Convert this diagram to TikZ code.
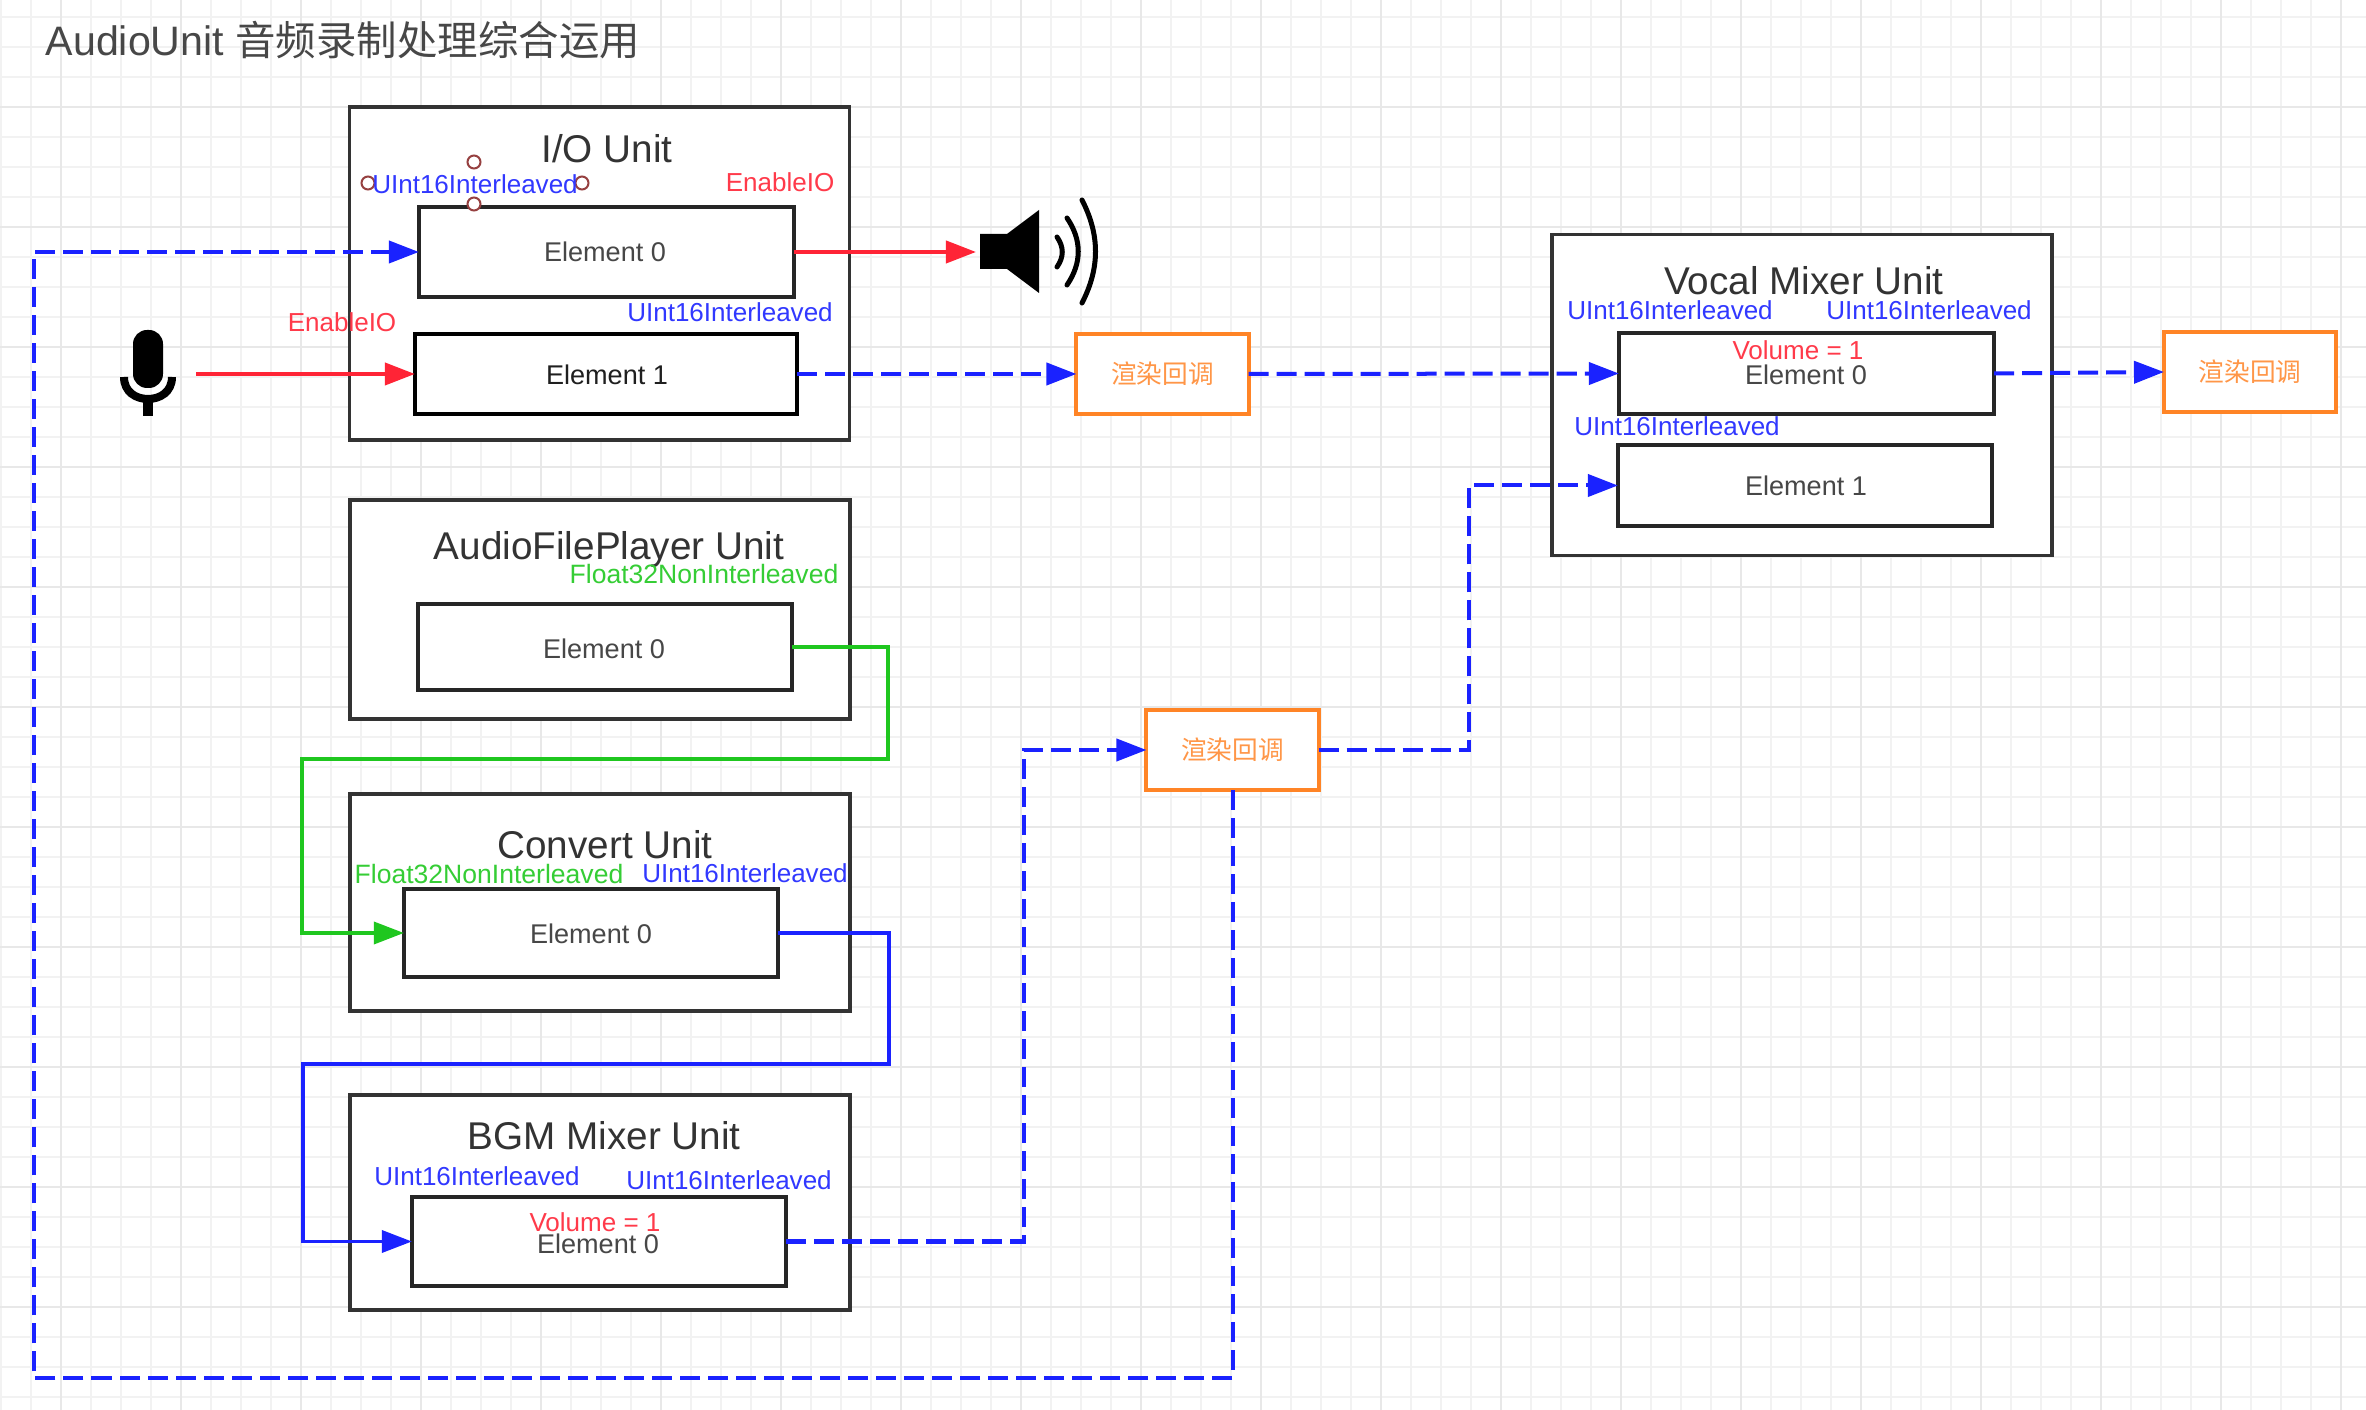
\documentclass[tikz,border=0pt]{standalone}
\usepackage{fontspec}
\setmainfont{Liberation Sans}
\newfontfamily\cjk{Noto Sans CJK SC}
\usetikzlibrary{arrows.meta}
\definecolor{lineblue}{HTML}{1A22FF}
\definecolor{linered}{HTML}{FF2436}
\definecolor{linegreen}{HTML}{1FC71F}
\definecolor{lineorange}{HTML}{FF8426}
\tikzset{
  gridminor/.style={draw=black!5,line width=0.02cm},
  gridmajor/.style={draw=black!9,line width=0.02cm},
  unitbox/.style={draw=black!80,fill=white,line width=0.035cm,inner sep=0,outer sep=0,minimum width=5cm},
  elembox/.style={draw=black!85,fill=white,line width=0.04cm,inner sep=0,outer sep=0},
  renderbox/.style={draw=lineorange,fill=white,line width=0.04cm,inner sep=0,outer sep=0,minimum width=1.72cm,minimum height=0.8cm,
    text=lineorange!85!white,font=\cjk\fontsize{7.3}{9}\selectfont},
  unittitle/.style={text=black!80,inner sep=0,font=\fontsize{11}{13}\selectfont},
  elemtext/.style={text=black!72,inner sep=0,font=\fontsize{7.7}{9}\selectfont},
  bluetext/.style={text=lineblue!90!white,inner sep=0,font=\fontsize{7.4}{9}\selectfont},
  redtext/.style={text=linered!90!white,inner sep=0,font=\fontsize{7.4}{9}\selectfont},
  greentext/.style={text=linegreen!90!white,inner sep=0,font=\fontsize{7.55}{9}\selectfont},
  handledot/.style={circle,draw=red!45!black!75,fill=white,line width=0.02cm,inner sep=0,minimum size=0.13cm},
  redline/.style={draw=linered,line width=0.04cm,-{Triangle[length=0.3cm,width=0.22cm]}},
  greenline/.style={draw=linegreen,line width=0.035cm,-{Triangle[length=0.3cm,width=0.22cm]}},
  blueline/.style={draw=lineblue,line width=0.035cm,-{Triangle[length=0.3cm,width=0.22cm]}},
  bluedash/.style={draw=lineblue,line width=0.04cm,dash pattern=on 0.2cm off 0.08cm,-{Triangle[length=0.3cm,width=0.22cm]}},
}
\begin{document}
\begin{tikzpicture}[x=0.01cm,y=-0.01cm]
  \useasboundingbox (0,0) rectangle (2366,1410);
  \fill[white] (0,0) rectangle (2366,1410);
  \foreach \gx in {1,31,...,2341} \draw[gridminor] (\gx,0) -- (\gx,1410);
  \foreach \gy in {17,47,...,1397} \draw[gridminor] (0,\gy) -- (2366,\gy);
  \foreach \gx in {61,181,...,2341} \draw[gridmajor] (\gx,0) -- (\gx,1410);
  \foreach \gy in {107,227,...,1307} \draw[gridmajor] (0,\gy) -- (2366,\gy);

  \node[text=black!72,inner sep=0,anchor=west,font=\fontsize{11.7}{14}\selectfont] (pagetitle) at (45,40) {AudioUnit {\cjk\fontsize{11.5}{14}\selectfont 音频录制处理综合运用}};

  \node[unitbox,minimum height=3.33cm] (iounit) at (599.5,273.5) {};
  \node[unitbox,minimum height=2.19cm] (fileunit) at (600,609.5) {};
  \node[unitbox,minimum height=2.17cm] (convunit) at (600,902.5) {};
  \node[unitbox,minimum height=2.15cm] (bgmunit) at (600,1202.5) {};
  \node[unitbox,minimum height=3.21cm] (vocalunit) at (1802,395) {};

  \node[elembox,minimum width=3.75cm,minimum height=0.89cm] (ioelemzero) at (606.5,252) {};
  \node[elembox,draw=black,minimum width=3.82cm,minimum height=0.79cm] (ioelemone) at (606,374) {};
  \node[elembox,minimum width=3.74cm,minimum height=0.85cm] (fileelem) at (605,647) {};
  \node[elembox,minimum width=3.74cm,minimum height=0.88cm] (convelem) at (591,933) {};
  \node[elembox,minimum width=3.74cm,minimum height=0.88cm] (bgmelem) at (599,1241.5) {};
  \node[elembox,minimum width=3.75cm,minimum height=0.8cm] (vocalelemzero) at (1806.5,373.5) {};
  \node[elembox,minimum width=3.74cm,minimum height=0.8cm] (vocalelemone) at (1805,485.5) {};

  \node[renderbox] (renderone) at (1162.5,374) {渲染回调};
  \node[renderbox] (rendertwo) at (1232.5,750) {渲染回调};
  \node[renderbox] (renderthree) at (2250,372) {渲染回调};

  \fill[rounded corners=0.14cm] (133,330) rectangle (163,388);
  \fill (143,400) rectangle (153,416);
  \draw[line width=0.08cm] (124,377) .. controls (124,392) and (136,399) .. (148,399) .. controls (160,399) and (172,392) .. (172,377);
  \coordinate (micout) at (196,374);

  \fill (980,234) -- (1007,234) -- (1039,210) -- (1039,293) -- (1007,269) -- (980,269) -- cycle;
  \draw[line width=0.05cm,line cap=round] (1057,237) .. controls (1064,247) and (1064,257) .. (1057,267);
  \draw[line width=0.05cm,line cap=round] (1067,218) .. controls (1082,240) and (1082,263) .. (1067,285);
  \draw[line width=0.05cm,line cap=round] (1082,200) .. controls (1100,235) and (1100,268) .. (1082,303);
  \coordinate (spkin) at (976,252);

  \coordinate (loopcorner) at (34,1378);
  \coordinate (greenright) at (888,759);
  \coordinate (greenleft) at (302,933);
  \coordinate (blueright) at (889,1064);
  \coordinate (blueleft) at (303,1241.5);
  \coordinate (bgmup) at (1024,750);
  \coordinate (vocalup) at (1469,485.5);

  \draw[redline] (micout) -- (ioelemone.west);
  \draw[redline] (ioelemzero.east) -- (spkin);
  \draw[bluedash] (rendertwo.south) |- (loopcorner) |- (ioelemzero.west);
  \draw[bluedash] (ioelemone.east) -- (renderone.west);
  \draw[bluedash] (renderone.east) -- (vocalelemzero.west);
  \draw[bluedash] (vocalelemzero.east) -- (renderthree.west);
  \draw[greenline] (fileelem.east) -| (greenright) -| (greenleft) -- (convelem.west);
  \draw[blueline] (convelem.east) -| (blueright) -| (blueleft) -- (bgmelem.west);
  \draw[bluedash] (bgmelem.east) -| (bgmup) -- (rendertwo.west);
  \draw[bluedash] (rendertwo.east) -| (vocalup) -- (vocalelemone.west);

  \node[handledot] (handletop) at (474,162) {};
  \node[handledot] (handleleft) at (368,183) {};
  \node[handledot] (handleright) at (582,183) {};
  \node[handledot] (handlebottom) at (474,204) {};

  \node[unittitle] (iotitle) at (607,149) {I/O Unit};
  \node[unittitle] (filetitle) at (609,550) {AudioFilePlayer Unit};
  \node[unittitle] (convtitle) at (605,845) {Convert Unit};
  \node[unittitle] (bgmtitle) at (604,1136) {BGM Mixer Unit};
  \node[unittitle] (vocaltitle) at (1804,281) {Vocal Mixer Unit};

  \node[elemtext] (ioelemzerotext) at (605,252) {Element 0};
  \node[elemtext,text=black!88] (ioelemonetext) at (607,375) {Element 1};
  \node[elemtext] (fileelemtext) at (604,649) {Element 0};
  \node[elemtext] (convelemtext) at (591,934) {Element 0};
  \node[elemtext] (bgmelemtext) at (598,1243.5) {Element 0};
  \node[elemtext] (vocalzerotext) at (1806,375) {Element 0};
  \node[elemtext] (vocalonetext) at (1806,486) {Element 1};

  \node[bluetext] (ioformatin) at (475,184) {UInt16Interleaved};
  \node[bluetext] (ioformatout) at (730,312) {UInt16Interleaved};
  \node[bluetext] (convformatout) at (745,873) {UInt16Interleaved};
  \node[bluetext] (bgmformatin) at (477,1176) {UInt16Interleaved};
  \node[bluetext] (bgmformatout) at (729,1180) {UInt16Interleaved};
  \node[bluetext] (vocalformatin) at (1670,310) {UInt16Interleaved};
  \node[bluetext] (vocalformatout) at (1929,310) {UInt16Interleaved};
  \node[bluetext] (vocalformatone) at (1677,426) {UInt16Interleaved};
  \node[greentext] (fileformat) at (704,574) {Float32NonInterleaved};
  \node[greentext] (convformatin) at (489,874) {Float32NonInterleaved};
  \node[redtext] (enableout) at (780,182) {EnableIO};
  \node[redtext] (enablein) at (342,322) {EnableIO};
  \node[redtext] (bgmvolume) at (595,1222) {Volume = 1};
  \node[redtext] (vocalvolume) at (1798,350) {Volume = 1};
\end{tikzpicture}
\end{document}
